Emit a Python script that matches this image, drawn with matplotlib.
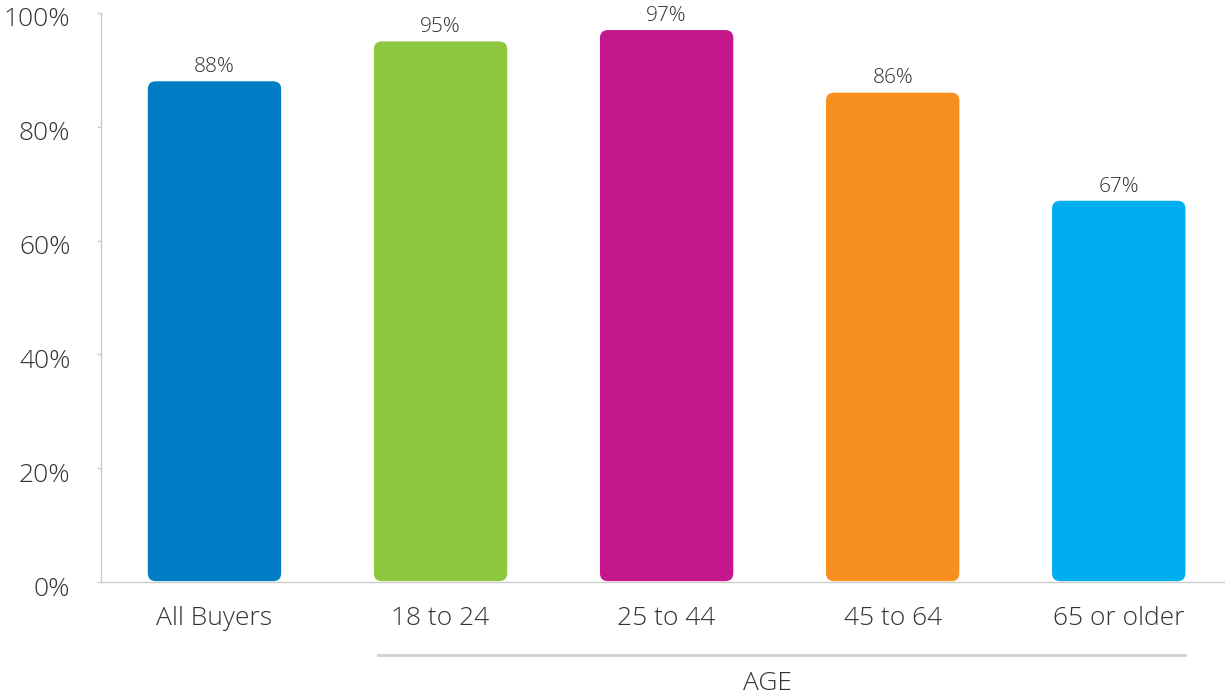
import matplotlib.pyplot as plt
import matplotlib.transforms as mtransforms
from matplotlib.patches import FancyBboxPatch
from matplotlib.lines import Line2D

categories = ['All Buyers', '18 to 24', '25 to 44', '45 to 64', '65 or older']
values = [88, 95, 97, 86, 67]
colors = ['#007DC5', '#8DC63F', '#C4178C', '#F7901E', '#00AEEF']
yticks = [0, 20, 40, 60, 80, 100]
group_label = 'AGE'

plt.rcParams['font.family'] = ['Open Sans', 'DejaVu Sans']
plt.rcParams['font.weight'] = 'light'
txt = '#333333'

fig = plt.figure(figsize=(12.25, 6.98), dpi=100)
ax = fig.add_axes([101/1225, 116/698, 1124/1225, 569/698])
ax.set_xlim(-0.502, 4.47)
ax.set_ylim(0, 100)

# pixels per data unit, used to keep the rounded corners circular
px_x = 1124 / (4.47 + 0.502)
px_y = 569 / 100
width = 0.59
rad = 8 / px_x

for i, (v, c) in enumerate(zip(values, colors)):
    p = FancyBboxPatch((i - width/2, 0.15), width, v - 0.15,
                       boxstyle=f'round,pad=0,rounding_size={rad}',
                       mutation_aspect=px_x / px_y,
                       fc=c, ec='none', zorder=3)
    ax.add_patch(p)
    ax.annotate(f'{v}%', (i, v), xytext=(0, 3), textcoords='offset points',
                ha='center', va='bottom', fontsize=15, color=txt)

ax.set_xticks(range(len(categories)))
ax.set_xticklabels(categories, fontsize=19, color=txt)
ax.set_yticks(yticks)
ax.set_yticklabels([f'{t}%' for t in yticks], fontsize=19, color=txt)
ax.tick_params(axis='x', length=0, pad=17)
ax.tick_params(axis='y', length=3, color='#cccccc', width=1, pad=19)
shift = mtransforms.ScaledTranslation(0, -4/100, fig.dpi_scale_trans)
for lbl in ax.get_yticklabels():
    lbl.set_transform(lbl.get_transform() + shift)

for s in ['top', 'right']:
    ax.spines[s].set_visible(False)
ax.spines['left'].set_color('#cccccc')
ax.spines['bottom'].set_color('#cccccc')
ax.spines['bottom'].set_linewidth(1)
ax.spines['left'].set_linewidth(1)

# bracket under the age groups
x0 = 1 - width/2 + 4/px_x
x1 = 4 + width/2
yb = -73 / px_y
ax.add_line(Line2D([x0, x1], [yb, yb], color='#d0d0d0', lw=2, clip_on=False))
ax.text((767.5 - 214.5) / px_x, -101 / px_y, group_label, ha='center', va='center',
        fontsize=19, color=txt)

fig.savefig('out.png', dpi=100)
